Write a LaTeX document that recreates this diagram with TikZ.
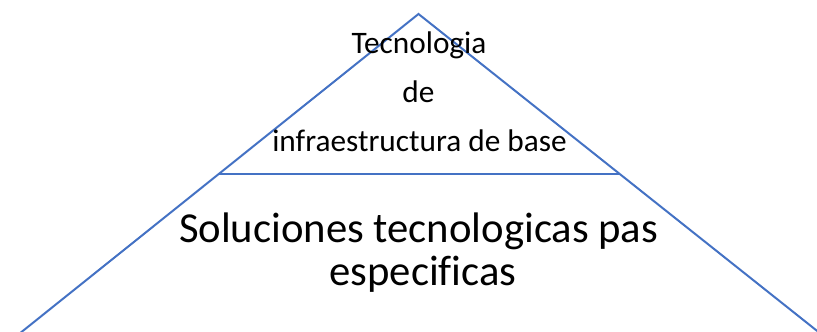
\documentclass[tikz,border=0pt]{standalone}
\usepackage{fontspec}
\setmainfont[Ligatures=NoCommon]{Carlito}
\usetikzlibrary{calc}
\definecolor{edgeblue}{HTML}{4472C4}
\tikzset{
  edge/.style={draw=edgeblue, line width=2pt, line join=miter},
  small/.style={anchor=base, inner sep=0pt, font=\fontsize{31.3}{37}\selectfont},
  big/.style={anchor=base, inner sep=0pt, font=\fontsize{42.7}{50}\selectfont}
}
\begin{document}
\begin{tikzpicture}[x=1pt, y=-1pt]
\useasboundingbox (0,0) rectangle (817,332);
\coordinate (A) at (418.5,14);
\coordinate (L) at (19,334);
\coordinate (R) at (821,334);
\coordinate (HL) at ($(A)!0.5!(L)$);
\coordinate (HR) at ($(A)!0.5!(R)$);
\draw[edge] (L) -- (A) -- (R);
\draw[edge] (HL) -- (HR);
\node[small] (t1) at (419,53.3) {Tecnologia};
\node[small] (t2) at (418.5,102.3) {de};
\node[small] (t3) at (419.5,151.7) {infraestructura de base};
\node[big] (b1) at (418.7,242.3) {Soluciones tecnologicas pas};
\node[big] (b2) at (423,285) {especificas};
\end{tikzpicture}
\end{document}
